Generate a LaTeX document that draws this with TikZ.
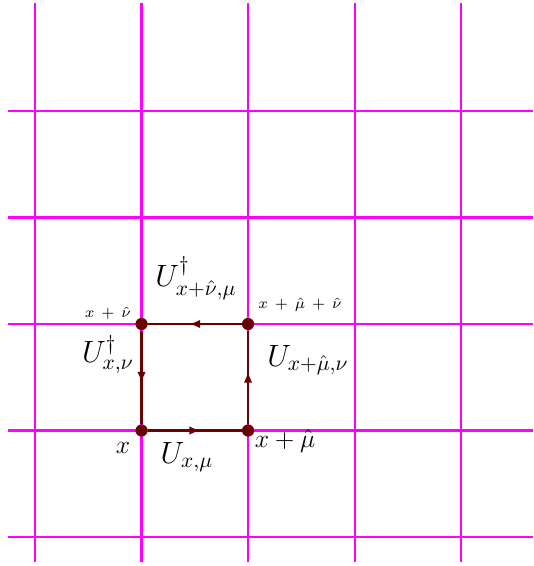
\documentclass[tikz,border=0pt]{standalone}
\usepackage{amsmath,amssymb}
\usepackage{xcolor}
\usepackage{tikz}
\usetikzlibrary{arrows.meta,positioning,decorations.markings}

\definecolor{linkred}{rgb}{0.42,0,0}
\definecolor{gridmag}{rgb}{1,0,1}

\begin{document}
\begin{tikzpicture}[x=1.75cm, y=1.75cm, every node/.style={align=center}]
\tikzset{
  gridline/.style={draw=gridmag, line width=1pt},
  site/.style={circle, fill=linkred, inner sep=0pt, minimum size=2mm},
  link/.style={draw=linkred, line width=1pt,
    postaction={decorate},
    decoration={markings, mark=at position 0.56 with {\arrow{Latex[length=1.8mm, width=1.4mm]}}}},
  lbl/.style={font=\Large, inner sep=0pt},
  plbl/.style={font=\large, inner sep=0pt},
  slbl/.style={font=\scriptsize, inner sep=0pt}
}
\useasboundingbox (-0.329,-0.272) rectangle (4.676,5.042);
\foreach \i in {0,...,4} \draw[gridline] (\i,-0.235) -- (\i,5.014);
\foreach \j in {0,...,4} \draw[gridline] (-0.254,\j) -- (4.676,\j);
\node[site] (s00) at (1,1) {};
\node[site] (s10) at (2,1) {};
\node[site] (s11) at (2,2) {};
\node[site] (s01) at (1,2) {};
\draw[link] (s00) -- (s10);
\draw[link] (s10) -- (s11);
\draw[link] (s11) -- (s01);
\draw[link] (s01) -- (s00);
\node[plbl] (lx) at (0.826,0.84) {$x$};
\node[plbl] (lxmu) at (2.347,0.90) {$x+\hat{\mu}$};
\node[slbl] (lxmunu) at (2.488,2.178) {$x\,+\,\hat{\mu}\,+\,\hat{\nu}$};
\node[slbl] (lxnu) at (0.685,2.103) {$x\,+\,\hat{\nu}$};
\node[lbl] (ubot) at (1.427,0.75) {$U_{x,\mu}$};
\node[lbl] (uright) at (2.563,1.66) {$U_{x+\hat{\mu},\nu}$};
\node[lbl] (utop) at (1.512,2.43) {$U^{\dagger}_{x+\hat{\nu},\mu}$};
\node[lbl] (uleft) at (0.685,1.71) {$U^{\dagger}_{x,\nu}$};
\end{tikzpicture}
\end{document}
